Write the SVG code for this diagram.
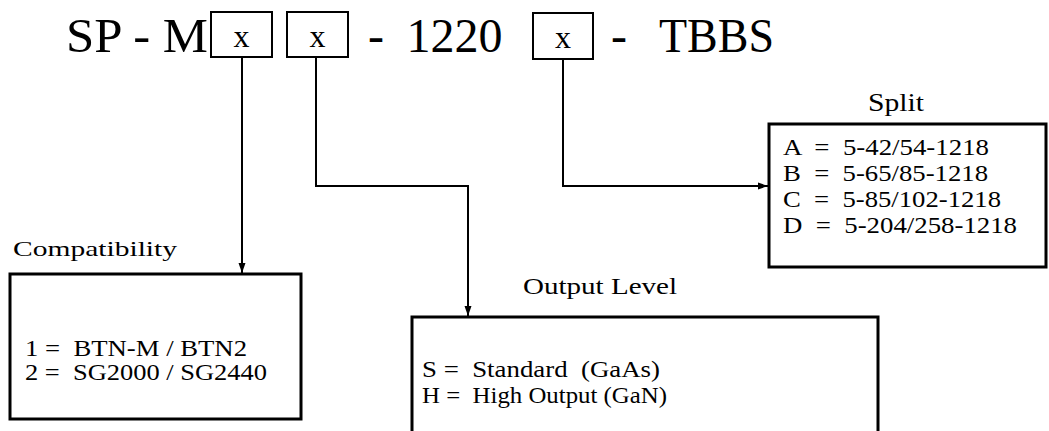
<svg xmlns="http://www.w3.org/2000/svg" width="1049" height="431" viewBox="0 0 1049 431">
<defs>
<style>
text{font-family:"Liberation Serif","Times New Roman",serif;fill:#000;white-space:pre}
.big{font-size:48px}
.bx{font-size:32px;text-anchor:middle}
.lbl{font-size:24px}
.row{font-size:24px}
.slot{fill:#fff;stroke:#000;stroke-width:2}
.panel{fill:#fff;stroke:#000;stroke-width:3}
.conn{fill:none;stroke:#000;stroke-width:2}
</style>
<marker id="arr" markerUnits="userSpaceOnUse" markerWidth="10" markerHeight="10" viewBox="0 0 10 10" refX="10" refY="5" orient="auto">
<path d="M0,1.5 L10,5 L0,8.5 Z" fill="#000"/>
</marker>
</defs>
<rect width="1049" height="431" fill="#fff"/>

<g id="title">
<text class="big" x="66" y="52" textLength="142" lengthAdjust="spacingAndGlyphs">SP - M</text>
<text class="big" x="368" y="52">-</text>
<text class="big" x="406.4" y="52">1220</text>
<text class="big" x="611" y="52">-</text>
<text class="big" x="659" y="52" textLength="115" lengthAdjust="spacingAndGlyphs">TBBS</text>
</g>

<g id="slot1">
<rect class="slot" x="211" y="12" width="61" height="45"/>
<text class="bx" x="241.5" y="47">x</text>
</g>
<g id="slot2">
<rect class="slot" x="287" y="12" width="61" height="45"/>
<text class="bx" x="317.5" y="47">x</text>
</g>
<g id="slot3">
<rect class="slot" x="533" y="13" width="60" height="46"/>
<text class="bx" x="563" y="48">x</text>
</g>

<g id="connectors">
<path class="conn" d="M242,57 V273" marker-end="url(#arr)"/>
<path class="conn" d="M316,57 V186 H468 V316" marker-end="url(#arr)"/>
<path class="conn" d="M563,59 V186 H768" marker-end="url(#arr)"/>
</g>

<g id="compatibility">
<text x="13" y="256" style="font-size:22px" textLength="164" lengthAdjust="spacingAndGlyphs">Compatibility</text>
<rect class="panel" x="10" y="274" width="291" height="145"/>
<text class="row" x="25" y="356" textLength="222" lengthAdjust="spacingAndGlyphs">1 =  BTN-M / BTN2</text>
<text class="row" x="25" y="380" textLength="242" lengthAdjust="spacingAndGlyphs">2 =  SG2000 / SG2440</text>
</g>

<g id="output-level">
<text class="lbl" x="523" y="294" textLength="154" lengthAdjust="spacingAndGlyphs">Output Level</text>
<rect class="panel" x="412" y="317" width="466" height="130"/>
<text class="row" x="422" y="377" textLength="238" lengthAdjust="spacingAndGlyphs">S =  Standard  (GaAs)</text>
<text class="row" x="422" y="403" textLength="245" lengthAdjust="spacingAndGlyphs">H =  High Output (GaN)</text>
</g>

<g id="split">
<text x="868" y="111" style="font-size:25px" textLength="56" lengthAdjust="spacingAndGlyphs">Split</text>
<rect class="panel" x="769" y="124" width="277" height="143"/>
<text class="row" x="783" y="155" textLength="206" lengthAdjust="spacingAndGlyphs">A  =  5-42/54-1218</text>
<text class="row" x="783" y="181" textLength="205" lengthAdjust="spacingAndGlyphs">B  =  5-65/85-1218</text>
<text class="row" x="783" y="207" textLength="218" lengthAdjust="spacingAndGlyphs">C  =  5-85/102-1218</text>
<text class="row" x="783" y="233" textLength="234" lengthAdjust="spacingAndGlyphs">D  =  5-204/258-1218</text>
</g>
</svg>
